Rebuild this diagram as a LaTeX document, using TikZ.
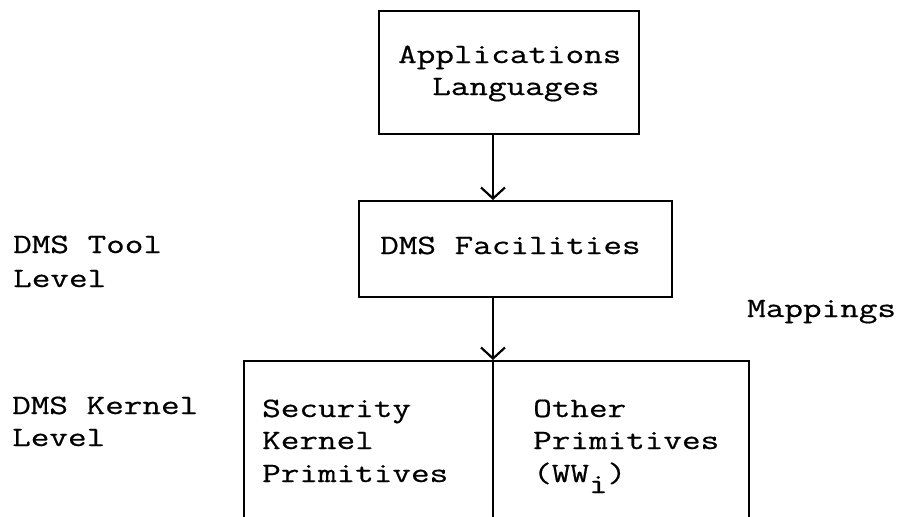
\documentclass[tikz,border=0pt]{standalone}
\usepackage{fontspec}
\setmonofont{Latin Modern Mono}[FakeStretch=1.29,FakeBold=0.6]
\usetikzlibrary{arrows.meta}
\begin{document}
\begin{tikzpicture}[x=1pt,y=-1pt,
  box/.style={draw, line width=2pt, inner sep=0pt, anchor=north west},
  txt/.style={font=\ttfamily\fontsize{28}{33}\selectfont, anchor=base west, inner sep=0pt},
  conn/.style={line width=2pt, -{Straight Barb[length=11pt,width=24pt,line width=2.2pt]}}]
\useasboundingbox (0,0) rectangle (903,517);
\clip (0,0) rectangle (903,517);
% boxes
\node[box, minimum width=260pt, minimum height=123pt] (app) at (378,10) {};
\node[box, minimum width=313pt, minimum height=96pt] (fac) at (358,200) {};
\node[box, minimum width=505pt, minimum height=190pt] (ker) at (242.5,360) {};
\coordinate (ax) at (493,0);
\draw[line width=2pt] (ker.north -| ax) -- (ker.south -| ax);
% connectors
\draw[conn] (app.south -| ax) -- (fac.north -| ax);
\draw[conn] (fac.south -| ax) -- (ker.north -| ax);
% texts in boxes
\node[txt] (t1) at (398,63) {Applications};
\node[txt] (t2) at (432,95) {Languages};
\node[txt] (t3) at (380,254) {DMS Facilities};
\node[txt] (s1) at (262,417) {Security};
\node[txt] (s2) at (262,449) {Kernel};
\node[txt] (s3) at (262,482) {Primitives};
\node[txt] (o1) at (533,417) {Other};
\node[txt] (o2) at (533,449) {Primitives};
\node[txt] (o3) at (533,482) {(WW\raisebox{-11pt}{i})};
% side labels
\node[txt] (l1) at (13,253) {DMS Tool};
\node[txt] (l2) at (13,287) {Level};
\node[txt] (l3) at (12,414) {DMS Kernel};
\node[txt] (l4) at (12,446) {Level};
\node[txt] (mp) at (747,317) {Mappings};
\end{tikzpicture}
\end{document}
